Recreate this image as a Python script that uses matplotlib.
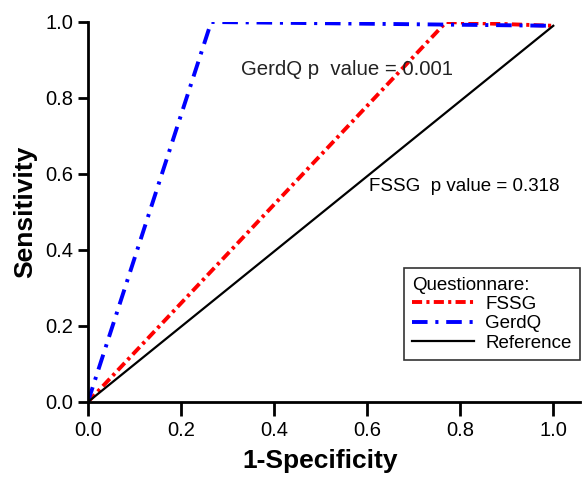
import matplotlib
matplotlib.use("Agg")
import matplotlib.pyplot as plt

plt.rcParams['font.family'] = ['Liberation Sans', 'DejaVu Sans']

# ROC points
fssg_x = [0.0, 0.77, 1.0]
fssg_y = [0.0, 1.0, 0.99]
gerdq_x = [0.0, 0.265, 1.0]
gerdq_y = [0.0, 1.0, 0.99]
ref_x = [0.0, 1.0]
ref_y = [0.0, 0.99]
ticks = [0.0, 0.2, 0.4, 0.6, 0.8, 1.0]

fig = plt.figure(figsize=(5.82, 4.78), dpi=100)
ax = fig.add_axes([0.151, 0.159, 0.846, 0.795])

ax.plot(fssg_x, fssg_y, color='red', lw=2.8, ls=(0, (2.6, 1.1, 0.8, 1.1)), label='FSSG')
ax.plot(gerdq_x, gerdq_y, color='blue', lw=2.8, ls=(0, (4, 2, 0.8, 2)), label='GerdQ')
ax.plot(ref_x, ref_y, color='black', lw=1.6, label='Reference')

ax.text(0.328, 0.874, 'GerdQ p  value = 0.001', fontsize=14.7, color='#222222', va='center')
ax.text(0.603, 0.566, 'FSSG  p value = 0.318', fontsize=13.5, color='black', va='center')

ax.set_xlim(0, 1.058)
ax.set_ylim(0, 1.0)
ax.set_xticks(ticks)
ax.set_yticks(ticks)
ax.set_xticklabels([f'{t:.1f}' for t in ticks])
ax.set_yticklabels([f'{t:.1f}' for t in ticks])
ax.tick_params(labelsize=14.5, width=2, direction='out')
ax.tick_params(axis='x', length=10, pad=4)
ax.tick_params(axis='y', length=7.5, pad=3)
for side in ['top', 'right']:
    ax.spines[side].set_visible(False)
for side in ['left', 'bottom']:
    ax.spines[side].set_linewidth(2)

ax.set_xlabel('1-Specificity', fontsize=19, fontweight='bold', labelpad=7)
ax.xaxis.set_label_coords(0.5 / 1.058, -0.125)
ax.set_ylabel('Sensitivity', fontsize=19, fontweight='bold', labelpad=6)

leg = ax.legend(title='Questionnare:', loc='lower right', bbox_to_anchor=(1.0, 0.11),
                borderaxespad=0, fontsize=13.5, title_fontsize=13.5, frameon=True,
                fancybox=False, edgecolor='black', borderpad=0.45, labelspacing=0.12,
                handlelength=3.3, handletextpad=0.6)
leg._legend_box.align = 'left'
leg.get_frame().set_linewidth(1.2)

fig.savefig('out.png', dpi=100)
